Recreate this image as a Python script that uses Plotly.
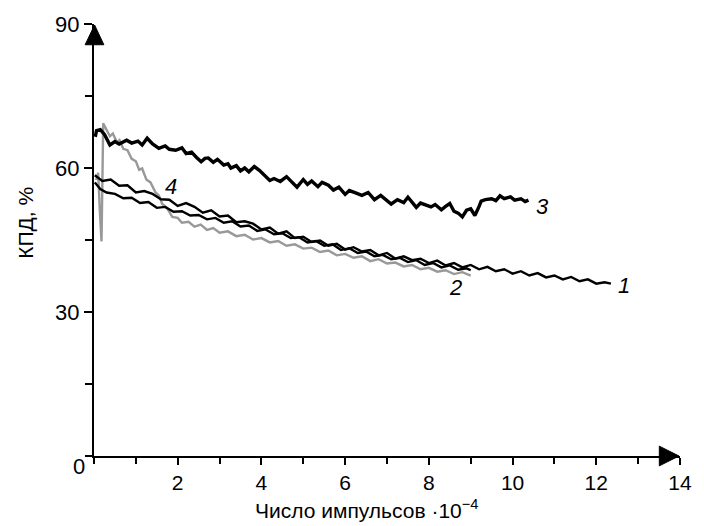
import plotly.graph_objects as go

# ---- data ----
x_c1 = [0.02, 0.2, 0.4, 0.6, 0.8, 1.0, 1.2, 1.4, 1.6, 1.8, 2.0, 2.2, 2.4, 2.6, 2.8, 3.0, 3.2, 3.4, 3.6, 3.8,
        4.0, 4.2, 4.4, 4.6, 4.8, 5.0, 5.2, 5.4, 5.6, 5.8, 6.0, 6.2, 6.4, 6.6, 6.8, 7.0, 7.2, 7.4, 7.6, 7.8,
        8.0, 8.2, 8.4, 8.6, 8.8, 9.0, 9.2, 9.4, 9.6, 9.8, 10.0, 10.2, 10.4, 10.6, 10.8, 11.0, 11.2, 11.4,
        11.6, 11.8, 12.0, 12.2, 12.35]
y_c1 = [58.5, 57.3, 57.6, 56.3, 56.4, 54.9, 55.2, 54.6, 53.5, 53.4, 52.1, 52.7, 51.9, 50.7, 51.2, 49.9, 50.1, 48.7,
        48.9, 48.4, 47.2, 47.6, 46.3, 46.8, 45.4, 45.7, 44.6, 44.9, 43.8, 44.2, 43.0, 43.5, 42.6, 42.9, 41.8, 42.3,
        41.1, 41.6, 40.8, 41.1, 40.2, 40.7, 39.7, 40.2, 39.3, 39.8, 38.9, 39.4, 38.5, 38.9, 38.0, 38.5, 37.6, 38.1,
        37.2, 37.6, 36.8, 37.3, 36.4, 36.8, 35.9, 36.2, 35.9]

x_c2 = [0.02, 0.15, 0.3, 0.5, 0.7, 0.9, 1.1, 1.3, 1.5, 1.7, 1.9, 2.1, 2.3, 2.5, 2.7, 2.9, 3.1, 3.3, 3.5, 3.7,
        3.9, 4.1, 4.3, 4.5, 4.7, 4.9, 5.1, 5.3, 5.5, 5.7, 5.9, 6.1, 6.3, 6.5, 6.7, 6.9, 7.1, 7.3, 7.5, 7.7,
        7.9, 8.1, 8.3, 8.5, 8.7, 8.9, 9.0]
y_c2 = [57.0, 55.6, 54.9, 54.6, 53.7, 53.8, 52.7, 52.9, 51.7, 51.9, 50.9, 51.0, 50.1, 50.2, 49.3, 49.6, 48.6, 48.9,
        47.8, 48.0, 46.9, 47.2, 46.2, 46.4, 45.4, 45.6, 44.5, 44.8, 43.8, 44.1, 42.9, 43.3, 42.3, 42.6, 41.6, 41.9,
        41.0, 41.3, 40.4, 40.8, 39.8, 40.2, 39.3, 39.7, 38.8, 39.1, 38.7]

x_c3 = [0.03, 0.06, 0.15, 0.25, 0.38, 0.5, 0.6, 0.78, 0.9, 1.05, 1.15, 1.27, 1.4, 1.55, 1.7, 1.8, 1.95, 2.1, 2.2,
        2.33, 2.45, 2.56, 2.65, 2.73, 2.85, 2.95, 3.1, 3.2, 3.27, 3.4, 3.5, 3.6, 3.7, 3.83, 3.95, 4.05, 4.2, 4.3,
        4.45, 4.6, 4.7, 4.85, 5.0, 5.1, 5.2, 5.35, 5.45, 5.6, 5.72, 5.85, 6.0, 6.1, 6.25, 6.4, 6.55, 6.7, 6.85,
        7.0, 7.1, 7.25, 7.4, 7.5, 7.62, 7.7, 7.8, 7.9, 8.05, 8.15, 8.3, 8.4, 8.5, 8.6, 8.7, 8.8, 8.9, 9.0, 9.1,
        9.2, 9.25, 9.35, 9.5, 9.6, 9.7, 9.8, 9.95, 10.05, 10.2, 10.3, 10.38]
y_c3 = [66.5, 67.8, 68.0, 67.0, 64.8, 65.5, 65.0, 65.8, 65.2, 65.6, 64.8, 66.2, 65.0, 64.1, 64.6, 63.9, 63.7, 64.2,
        63.0, 63.3, 62.2, 61.3, 62.0, 62.1, 61.2, 61.8, 60.6, 60.9, 60.0, 60.5, 59.4, 60.0, 59.2, 60.3, 59.5, 58.6,
        57.4, 57.8, 57.2, 58.2, 57.4, 56.0, 57.6, 56.6, 57.3, 56.1, 57.0, 56.4, 55.4, 56.0, 54.5, 55.3, 54.8, 54.3,
        54.9, 53.4, 54.3, 53.3, 52.5, 53.4, 52.8, 53.9, 52.6, 51.8, 52.7, 52.4, 51.9, 52.4, 51.3, 52.0, 52.6, 51.0,
        50.6, 49.8, 51.2, 51.5, 50.1, 52.0, 53.1, 53.4, 53.6, 53.2, 54.2, 53.6, 54.0, 53.3, 53.6, 53.0, 53.3]

x_c4 = [0.05, 0.1, 0.14, 0.18, 0.22, 0.3, 0.38, 0.45, 0.55, 0.61, 0.7, 0.8, 0.9, 1.0, 1.08, 1.15, 1.25, 1.35,
        1.47, 1.55, 1.63, 1.75, 1.87, 2.0, 2.1, 2.26, 2.4, 2.55, 2.7, 2.85, 3.0, 3.2, 3.4, 3.6, 3.8, 4.0, 4.2,
        4.4, 4.6, 4.8, 5.0, 5.2, 5.4, 5.6, 5.8, 6.0, 6.2, 6.4, 6.6, 6.8, 7.0, 7.2, 7.4, 7.6, 7.8, 8.0, 8.2,
        8.4, 8.6, 8.8, 9.0]
y_c4 = [57.5, 59.0, 51.0, 44.7, 69.3, 68.0, 66.6, 67.2, 65.3, 65.8, 64.0, 63.7, 61.9, 61.4, 59.6, 59.9, 57.6, 57.0,
        54.9, 54.3, 52.5, 51.6, 49.8, 49.6, 48.6, 48.8, 47.8, 48.2, 47.1, 47.5, 46.5, 46.8, 45.8, 46.1, 45.1, 45.4,
        44.5, 44.8, 43.8, 44.1, 43.2, 43.4, 42.5, 42.8, 41.8, 42.1, 41.3, 41.6, 40.6, 41.0, 40.1, 40.3, 39.5, 39.8,
        38.9, 39.2, 38.4, 38.7, 37.9, 38.3, 37.6]

curve_labels = ["1", "2", "3", "4"]
label_x = [12.66, 8.64, 10.71, 1.84]
label_y = [35.5, 35.1, 51.9, 56.1]

x_tickvals = [2, 4, 6, 8, 10, 12, 14]
x_ticktext = ["2", "4", "6", "8", "10", "12", "14"]
y_tickvals = [30, 60, 90]
y_ticktext = ["30", "60", "90"]

x_title = "Число импульсов ·10<sup>−4</sup>"
y_title = "КПД, %"

FONT = "Liberation Sans, Arial, sans-serif"
BLACK = "#000000"
GRAY = "#999999"
FS = 21

fig = go.Figure()
fig.add_trace(go.Scatter(x=x_c4, y=y_c4, mode="lines", line=dict(color=GRAY, width=2.4)))
fig.add_trace(go.Scatter(x=x_c2, y=y_c2, mode="lines", line=dict(color=BLACK, width=2.4)))
fig.add_trace(go.Scatter(x=x_c1, y=y_c1, mode="lines", line=dict(color=BLACK, width=2.4)))
fig.add_trace(go.Scatter(x=x_c3, y=y_c3, mode="lines", line=dict(color=BLACK, width=3.4)))

for t, lx, ly in zip(curve_labels, label_x, label_y):
    fig.add_annotation(x=lx, y=ly, text=f"<i>{t}</i>", showarrow=False,
                       font=dict(family=FONT, size=22, color=BLACK))

# axis titles and the shifted "0" label (paper coordinates)
fig.add_annotation(xref="paper", yref="paper", x=0.4655, y=-0.123, text=x_title, showarrow=False,
                   xanchor="center", yanchor="middle",
                   font=dict(family=FONT, size=FS, color=BLACK))
fig.add_annotation(xref="paper", yref="paper", x=-0.116, y=0.540, text=y_title, showarrow=False,
                   textangle=-90, xanchor="center", yanchor="middle",
                   font=dict(family=FONT, size=FS, color=BLACK))
fig.add_annotation(xref="paper", yref="paper", x=-0.026, y=-0.024, text="0", showarrow=False,
                   xanchor="center", yanchor="middle",
                   font=dict(family=FONT, size=22, color=BLACK))

# arrow heads (paper coordinates)
fig.add_shape(type="path", xref="paper", yref="paper",
              path="M 0.001,0.9977 L -0.0151,0.952 L 0.0168,0.952 Z",
              fillcolor=BLACK, line=dict(color=BLACK, width=1), layer="above")
fig.add_shape(type="path", xref="paper", yref="paper",
              path="M 0.9983,0 L 0.9647,0.0228 L 0.9647,-0.0228 Z",
              fillcolor=BLACK, line=dict(color=BLACK, width=1), layer="above")

fig.update_layout(
    width=704, height=526,
    margin=dict(l=94, r=15, t=17, b=70),
    paper_bgcolor="white", plot_bgcolor="white",
    showlegend=False,
    font=dict(family=FONT, size=FS, color=BLACK),
    xaxis=dict(range=[0, 14], showgrid=False, zeroline=False, showline=True,
               linecolor=BLACK, linewidth=2, ticks="outside", ticklen=7, tickwidth=1.5,
               tickcolor=BLACK, tickvals=x_tickvals, ticktext=x_ticktext,
               ticklabelstandoff=0,
               tickfont=dict(family=FONT, size=FS, color=BLACK),
               minor=dict(dtick=1, ticks="outside", ticklen=6, tickwidth=1.5, tickcolor=BLACK)),
    yaxis=dict(range=[0, 90], showgrid=False, zeroline=False, showline=True,
               linecolor=BLACK, linewidth=2, ticks="outside", ticklen=8, tickwidth=1.5,
               tickcolor=BLACK, tickvals=y_tickvals, ticktext=y_ticktext,
               tickfont=dict(family=FONT, size=22, color=BLACK),
               minor=dict(dtick=15, ticks="outside", ticklen=7, tickwidth=1.5, tickcolor=BLACK)),
)

fig.write_html("out.html")
